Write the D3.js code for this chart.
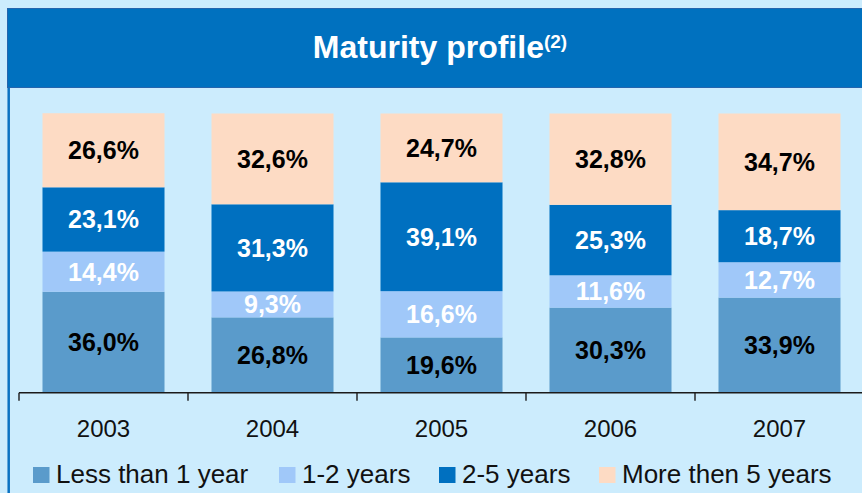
<!DOCTYPE html>
<html>
<head>
<meta charset="utf-8">
<title>Maturity profile</title>
<script src="https://cdn.jsdelivr.net/npm/d3@7"></script>
<style>
	body { margin: 0; background-color: #CCECFD; }
	svg { display: block; font-family: "Liberation Sans", Arial, sans-serif; }
</style>
</head>
<body>
<script>
//chart data
var years = ["2003", "2004", "2005", "2006", "2007"];
var seriesNames = ["Less than 1 year", "1-2 years", "2-5 years", "More then 5 years"];
var lessThan1 = [36.0, 26.8, 19.6, 30.3, 33.9];
var oneToTwo = [14.4, 9.3, 16.6, 11.6, 12.7];
var twoToFive = [23.1, 31.3, 39.1, 25.3, 18.7];
var moreThan5 = [26.6, 32.6, 24.7, 32.8, 34.7];

window.onload = function(){
	var w = 862, h = 493;

	var colors = ["#5A9BCB", "#A0C8F9", "#0070C0", "#FDDBC4"];
	var labelColors = ["#000", "#fff", "#fff", "#000"];
	var keys = ["s0", "s1", "s2", "s3"];

	//build rows for the stack layout
	var rows = years.map(function(y, i){
		return { year: y, s0: lessThan1[i], s1: oneToTwo[i], s2: twoToFive[i], s3: moreThan5[i] };
	});

	var container = d3.select("body")
		.append("svg")
		.attr("width", w)
		.attr("height", h)
		.attr("class", "container")
		.style("background-color", "#CCECFD");

	//header band
	container.append("rect")
		.attr("class", "header")
		.attr("x", 7.5)
		.attr("y", 8.5)
		.attr("width", w)
		.attr("height", 79)
		.style("fill", "#0071BF")
		.style("stroke", "#2565AD")
		.style("stroke-width", 1);

	//left frame line
	container.append("line")
		.attr("class", "frame")
		.attr("x1", 8.7)
		.attr("x2", 8.7)
		.attr("y1", 88)
		.attr("y2", h)
		.style("stroke", "#0A72C2")
		.style("stroke-width", 2.5);

	var title = container.append("text")
		.attr("class", "title")
		.attr("text-anchor", "middle")
		.attr("x", 440)
		.attr("y", 58)
		.style("fill", "#fff")
		.style("font-weight", "bold")
		.style("font-size", "32px")
		.text("Maturity profile");

	title.append("tspan")
		.attr("dy", -10)
		.style("font-size", "19px")
		.text("(2)");

	var x = d3.scaleBand()
		.domain(years)
		.range([19, 864])
		.paddingInner(0.278)
		.paddingOuter(0.139);

	var y = d3.scaleLinear()
		.domain([0, 100])
		.range([392, 113.5]);

	var stacked = d3.stack().keys(keys)(rows);

	var layers = container.selectAll(".layer")
		.data(stacked)
		.enter()
		.append("g")
		.attr("class", "layer")
		.style("fill", function(d, i){
			return colors[i];
		});

	layers.selectAll("rect")
		.data(function(d){ return d; })
		.enter()
		.append("rect")
		.attr("x", function(d){
			return x(d.data.year);
		})
		.attr("width", x.bandwidth())
		.attr("y", function(d){
			return y(d[1]);
		})
		.attr("height", function(d){
			return y(d[0]) - y(d[1]);
		});

	//value labels centred in each segment
	layers.selectAll("text")
		.data(function(d, i){
			return d.map(function(p){ return { p: p, s: i }; });
		})
		.enter()
		.append("text")
		.attr("text-anchor", "middle")
		.attr("x", function(d){
			return x(d.p.data.year) + x.bandwidth() / 2;
		})
		.attr("y", function(d){
			return (y(d.p[0]) + y(d.p[1])) / 2 + 9;
		})
		.style("fill", function(d){
			return labelColors[d.s];
		})
		.style("font-weight", "bold")
		.style("font-size", "25px")
		.text(function(d){
			return (d.p[1] - d.p[0]).toFixed(1).replace(".", ",") + "%";
		});

	//category axis
	var xAxis = d3.axisBottom(x)
		.tickSize(0)
		.tickPadding(27);

	var axis = container.append("g")
		.attr("class", "axis")
		.attr("transform", "translate(0,392.7)")
		.call(xAxis);

	axis.select(".domain").remove();
	axis.selectAll("text")
		.style("font-size", "24px")
		.style("font-family", "\"Liberation Sans\", Arial, sans-serif")
		.style("fill", "#111");

	var half = (x.step() - x.bandwidth()) / 2;
	var bounds = years.map(function(d){ return x(d) - half; });
	bounds.push(x(years[years.length - 1]) + x.bandwidth() + half);

	axis.append("line")
		.attr("x1", 19)
		.attr("x2", w)
		.attr("y1", 0)
		.attr("y2", 0)
		.style("stroke", "#1a1a1a")
		.style("stroke-width", 1.4);

	axis.selectAll(".sep")
		.data(bounds)
		.enter()
		.append("line")
		.attr("class", "sep")
		.attr("x1", function(d){ return d; })
		.attr("x2", function(d){ return d; })
		.attr("y1", 0)
		.attr("y2", 8)
		.style("stroke", "#1a1a1a")
		.style("stroke-width", 1.4);

	//legend
	var legendX = [33, 279, 439, 599];
	var legend = container.selectAll(".legend")
		.data(seriesNames)
		.enter()
		.append("g")
		.attr("class", "legend")
		.attr("transform", function(d, i){
			return "translate(" + legendX[i] + ",467)";
		});

	legend.append("rect")
		.attr("width", 16.5)
		.attr("height", 16)
		.style("fill", function(d, i){
			return colors[i];
		});

	legend.append("text")
		.attr("x", 23)
		.attr("y", 16)
		.style("font-size", "26px")
		.style("fill", "#111")
		.text(function(d){ return d; });
};
</script>
</body>
</html>
